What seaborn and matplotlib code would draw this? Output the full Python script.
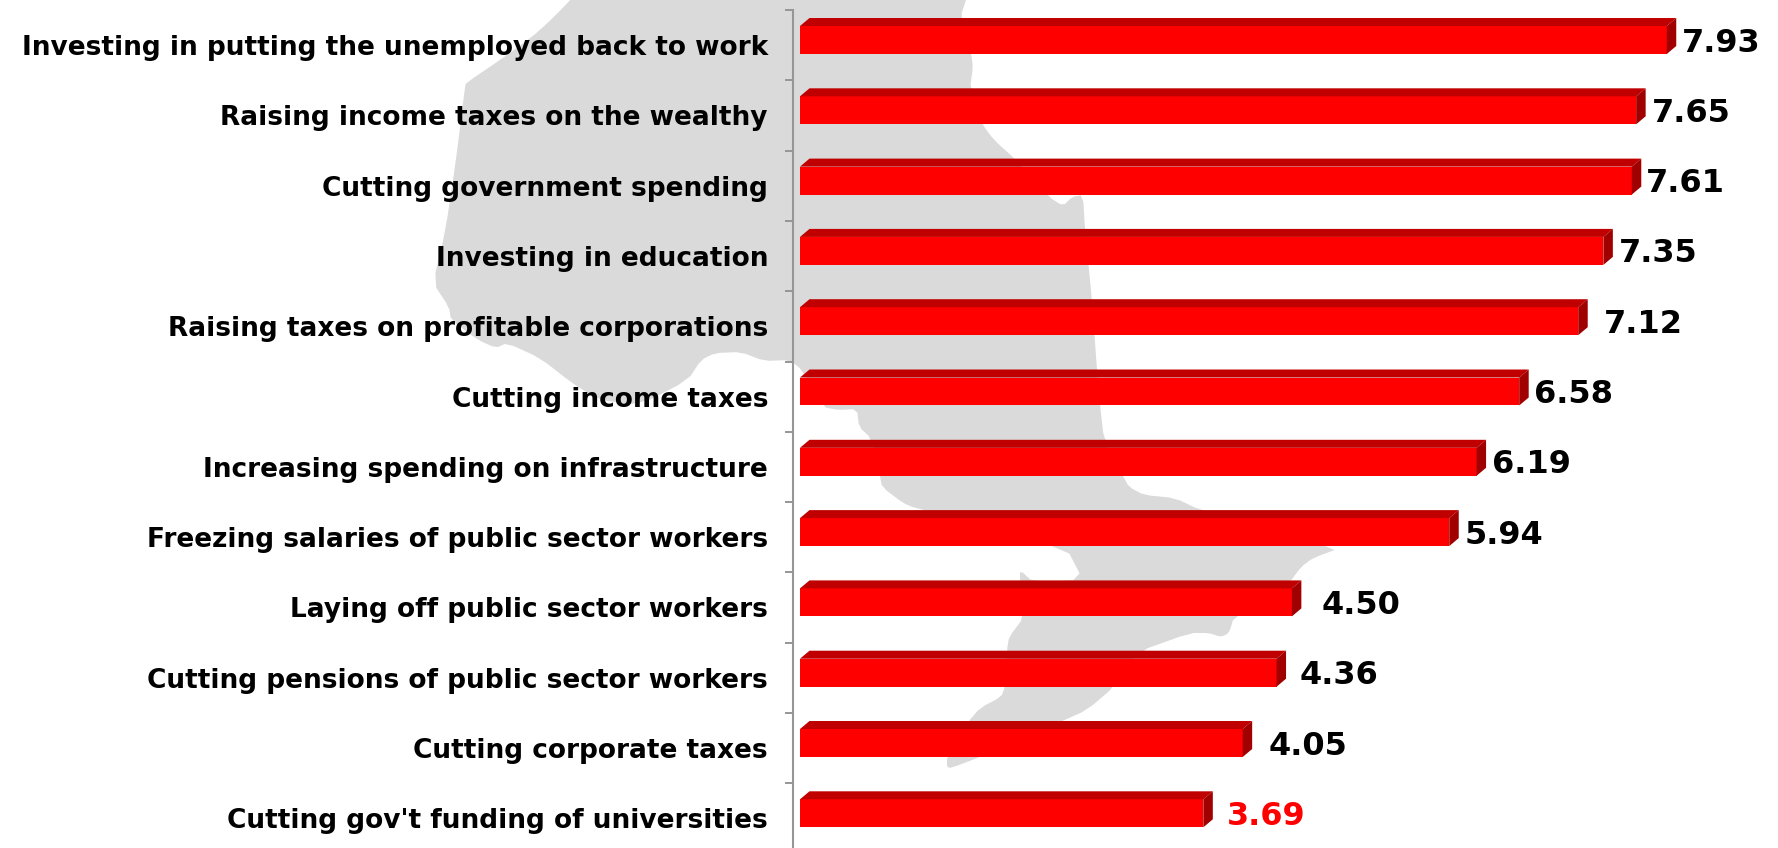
import numpy as np
import pandas as pd
import matplotlib
matplotlib.use("Agg")
import matplotlib.pyplot as plt
from matplotlib.patches import Polygon
from matplotlib.transforms import IdentityTransform
import seaborn as sns

categories = [
    "Investing in putting the unemployed back to work",
    "Raising income taxes on the wealthy",
    "Cutting government spending",
    "Investing in education",
    "Raising taxes on profitable corporations",
    "Cutting income taxes",
    "Increasing spending on infrastructure",
    "Freezing salaries of public sector workers",
    "Laying off public sector workers",
    "Cutting pensions of public sector workers",
    "Cutting corporate taxes",
    "Cutting gov't funding of universities",
]
values = [7.93, 7.65, 7.61, 7.35, 7.12, 6.58, 6.19, 5.94, 4.50, 4.36, 4.05, 3.69]
label_colors = ["black"] * 11 + ["#FF0000"]
label_gaps = [6, 6, 5, 6, 16, 5, 6, 6, 20, 14, 16, 14]

W, H = 1778, 848
sns.set_theme(style="white")
plt.rcParams["font.family"] = ["DejaVu Sans"]
fig = plt.figure(figsize=(W / 100, H / 100), dpi=100, facecolor="white")

# decorative map silhouette behind the chart, in image pixels
outline = [
    (576,-6),(554,17),(532,37),(500,60),(466,83),(465,87),(456,160),(445,233),(433,283),
    (449,307),(451,320),(478,340),(496,348),(507,343),(540,358),(572,383),(599,400),
    (640,405),(688,380),(701,360),(715,353),(741,352),(764,361),(790,360),(802,370),
    (823,407),(838,410),(857,409),(859,427),(871,438),(880,476),(882,487),(903,503),
    (915,508),(1066,547),(1083,580),(1033,582),(1020,570),(1020,582),(1024,617),
    (1009,637),(1007,650),(1005,687),(1001,697),(980,708),(968,722),(947,757),(947,767),
    (951,768),(980,757),(1060,722),(1087,710),(1114,687),(1137,652),(1190,633),(1209,633),
    (1221,637),(1229,633),(1234,617),(1290,582),(1301,567),(1313,558),(1340,548),
    (1200,510),(1175,498),(1144,495),(1129,487),(1123,476),(1104,440),(1100,405),
    (1097,370),(1092,300),(1085,230),(1083,195),(1072,197),(1063,206),(1049,197),
    (1014,158),(994,140),(982,124),(970,88),(973,67),(971,53),(960,18),(968,-6),
]
# one corner-cutting pass rounds the coastline
pts = np.array(outline, dtype=float)
nxt = np.roll(pts, -1, axis=0)
smooth = np.empty((2 * len(pts), 2))
smooth[0::2] = 0.8 * pts + 0.2 * nxt
smooth[1::2] = 0.2 * pts + 0.8 * nxt
fig.add_artist(Polygon(np.column_stack([smooth[:, 0], H - smooth[:, 1]]), closed=True,
                       facecolor="#DADADA", edgecolor="none",
                       transform=IdentityTransform(), zorder=-1))

AX_LEFT, AX_TOP = 793, 10
ax = fig.add_axes([AX_LEFT / W, 0, (W - AX_LEFT) / W, (H - AX_TOP) / H])
ax.patch.set_visible(False)

df = pd.DataFrame({"category": categories, "value": values})
sns.barplot(data=df, y="category", x="value", orient="h", color="#FF0000", saturation=1,
            width=0.398, edgecolor="none", ax=ax)

PX_X, PX_Y = 109.3, 70.3   # pixels per data unit
ax.set_xlim(-7 / PX_X, (W - 800) / PX_X)
ax.set_ylim(808 / PX_Y, -30 / PX_Y)

# 3D faces derived from each bar
dx, dy = 9.5 / PX_X, 8 / PX_Y
for bar in ax.patches:
    x0, w = bar.get_x(), bar.get_width()
    y0, h = bar.get_y(), bar.get_height()
    ytop, ybot = min(y0, y0 + h), max(y0, y0 + h)
    ax.fill([x0, x0 + dx, x0 + w + dx, x0 + w], [ytop, ytop - dy, ytop - dy, ytop],
            color="#C00000", lw=0, zorder=3)
    ax.fill([x0 + w, x0 + w + dx, x0 + w + dx, x0 + w], [ytop, ytop - dy, ybot - dy, ybot],
            color="#A00000", lw=0, zorder=3)

for i, (v, c, g) in enumerate(zip(values, label_colors, label_gaps)):
    ax.annotate(f"{v:.2f}", xy=(v + dx, i), xytext=(g * 0.72, -3 * 0.72), textcoords="offset points",
                ha="left", va="center", color=c, fontsize=23, fontweight="bold", annotation_clip=False)

n = len(categories)
ax.set_yticks(np.arange(n) + 5 / PX_Y)
ax.set_yticklabels(categories, fontsize=19, fontweight="bold", color="black")
ax.set_yticks(np.arange(n) - 30 / PX_Y, minor=True)
ax.tick_params(axis="y", which="major", length=0, pad=18)
ax.tick_params(axis="y", which="minor", left=True, length=5.8, width=1.4, color="#969696")
ax.set_xticks([])
ax.set_xlabel("")
ax.set_ylabel("")
for s in ["top", "right", "bottom"]:
    ax.spines[s].set_visible(False)
ax.spines["left"].set_color("#969696")
ax.spines["left"].set_linewidth(1.5)

fig.savefig("out.png", dpi=100)
